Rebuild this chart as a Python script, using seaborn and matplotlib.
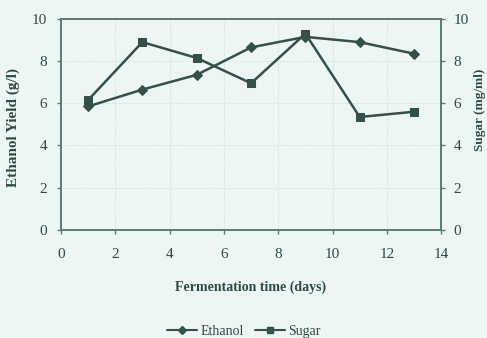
import matplotlib
matplotlib.use("Agg")
import matplotlib.pyplot as plt
import seaborn as sns
import pandas as pd
from matplotlib.lines import Line2D

days = [1, 3, 5, 7, 9, 11, 13]
ethanol = [5.85, 6.65, 7.35, 8.65, 9.15, 8.9, 8.35]
sugar = [6.15, 8.9, 8.15, 6.95, 9.3, 5.35, 5.6]

sns.set_theme(style="white")
plt.rcParams['font.family'] = ['Liberation Serif', 'DejaVu Serif']

bg = "#eef5f8"
line_c = "#35504b"
text_c = "#2c4a44"

df = pd.DataFrame({"days": days, "ethanol": ethanol, "sugar": sugar})

fig = plt.figure(figsize=(4.87, 3.38), dpi=100, facecolor=bg)
ax = fig.add_axes([0.125, 0.32, 0.781, 0.624])
ax.set_facecolor(bg)
ax2 = ax.twinx()

sns.lineplot(data=df, x="days", y="ethanol", ax=ax, color=line_c, marker="D",
             markersize=5, linewidth=1.8, markeredgecolor=line_c)
sns.lineplot(data=df, x="days", y="sugar", ax=ax2, color=line_c, marker="s",
             markersize=6, linewidth=1.8, markeredgecolor=line_c)

for a in (ax, ax2):
    a.set_ylim(0, 10)
    a.set_yticks([0, 2, 4, 6, 8, 10])
    a.set_xlim(0, 14)
    for s in a.spines.values():
        s.set_color("#5a7a72")
        s.set_linewidth(1.2)
ax.set_xticks(range(0, 15, 2))
ax.grid(True, color="#c5d3d6", linestyle=":", linewidth=0.6)

ax.tick_params(axis="y", colors="#5a7a72", labelcolor=text_c, labelsize=11,
               direction="out", length=3, width=1, left=True, pad=7)
ax.tick_params(axis="x", colors="#5a7a72", labelcolor=text_c, labelsize=11,
               direction="out", length=3, width=1, bottom=True, pad=10)
ax2.tick_params(axis="y", colors="#5a7a72", labelcolor=text_c, labelsize=11,
                direction="out", length=3, width=1, right=True, pad=6)

ax.set_xlabel("Fermentation time (days)", fontsize=10, fontweight="bold",
              color=text_c, labelpad=14)
ax.set_ylabel("Ethanol Yield (g/l)", fontsize=11, fontweight="bold",
              color=text_c)
ax.yaxis.set_label_coords(-0.108, 0.483)
ax2.set_ylabel("Sugar (mg/ml)", fontsize=9.5, fontweight="bold",
               color=text_c)
ax2.yaxis.set_label_coords(1.085, 0.57)

handles = [Line2D([], [], color=line_c, marker="D", markersize=4, linewidth=1.5),
           Line2D([], [], color=line_c, marker="s", markersize=4.5, linewidth=1.5)]
fig.legend(handles, ["Ethanol", "Sugar"], loc="center", bbox_to_anchor=(0.5, 0.02),
           ncol=2, frameon=False, fontsize=10, handlelength=2.2, columnspacing=0.8,
           handletextpad=0.2, labelcolor=text_c)

fig.savefig("out.png", dpi=100, facecolor=bg)
